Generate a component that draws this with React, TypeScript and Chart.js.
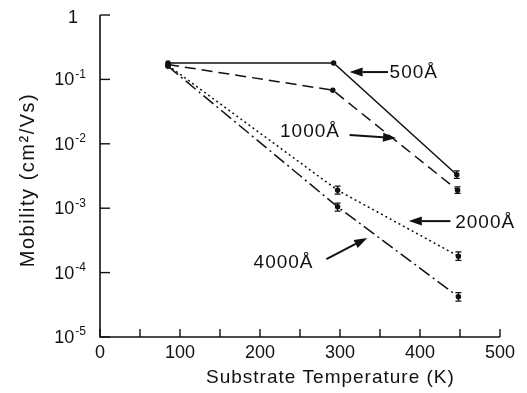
import React, { useEffect, useRef } from "react";
import { Chart, registerables } from "chart.js";

Chart.register(...registerables);

// ---- data ----
const seriesLabels = ["500Å", "1000Å", "2000Å", "4000Å"];

const temp500 = [85, 292, 446];
const mob500 = [0.18, 0.18, 3.3e-3];
const errLow500: (number | null)[] = [null, null, 2.9e-3];
const errHigh500: (number | null)[] = [null, null, 3.8e-3];

const temp1000 = [85, 291, 447];
const mob1000 = [0.17, 0.068, 1.9e-3];
const errLow1000: (number | null)[] = [null, null, 1.7e-3];
const errHigh1000: (number | null)[] = [null, null, 2.15e-3];

const temp2000 = [85, 297, 448];
const mob2000 = [0.165, 1.9e-3, 1.8e-4];
const errLow2000: (number | null)[] = [null, 1.65e-3, 1.55e-4];
const errHigh2000: (number | null)[] = [null, 2.2e-3, 2.1e-4];

const temp4000 = [85, 297, 448];
const mob4000 = [0.16, 1.05e-3, 4.2e-5];
const errLow4000: (number | null)[] = [null, 0.9e-3, 3.6e-5];
const errHigh4000: (number | null)[] = [null, 1.2e-3, 4.9e-5];

const xTickValues = [0, 50, 100, 150, 200, 250, 300, 350, 400, 450, 500];
const xTickLabels = ["0", "100", "200", "300", "400", "500"];
const xLabelValues = [0, 100, 200, 300, 400, 500];
const yTickValues = [1, 1e-1, 1e-2, 1e-3, 1e-4, 1e-5];
const yTickExponents = ["", "-1", "-2", "-3", "-4", "-5"];

const xTitle = "Substrate Temperature (K)";
const yTitle = "Mobility (cm²/Vs)";

// annotation: label, text anchor (x,y), arrow tail (x,y), arrow head (x,y) in data units
const annotations = [
  { text: "500Å", tx: 362, ty: 0.126, ax: 360, ay: 0.13, hx: 312, hy: 0.13 },
  { text: "1000Å", tx: 225, ty: 0.0152, ax: 312, ay: 0.0137, hx: 370, hy: 0.0123 },
  { text: "2000Å", tx: 444, ty: 5.9e-4, ax: 438, ay: 6.3e-4, hx: 386, hy: 6.3e-4 },
  { text: "4000Å", tx: 192, ty: 1.4e-4, ax: 283, ay: 1.62e-4, hx: 334, hy: 3.45e-4 },
];

const FONT = "'Liberation Sans', Arial, sans-serif";

function App() {
  const ref = useRef<HTMLCanvasElement | null>(null);

  useEffect(() => {
    if (!ref.current) return;
    const mk = (xs: number[], ys: number[]) => xs.map((x, i) => ({ x, y: ys[i] }));
    const errs = [
      [errLow500, errHigh500],
      [errLow1000, errHigh1000],
      [errLow2000, errHigh2000],
      [errLow4000, errHigh4000],
    ];
    const xsAll = [temp500, temp1000, temp2000, temp4000];

    const drawPlugin = {
      id: "customDraw",
      beforeDraw(chart: any) {
        const c = chart.ctx;
        c.save();
        c.fillStyle = "#fff";
        c.fillRect(0, 0, chart.width, chart.height);
        c.restore();
      },
      afterDatasetsDraw(chart: any) {
        const c = chart.ctx;
        const xs = chart.scales.x;
        const ys = chart.scales.y;
        c.save();
        c.strokeStyle = "#111";
        c.fillStyle = "#111";

        // error bars
        c.lineWidth = 1.3;
        errs.forEach(([lo, hi], si) => {
          lo.forEach((l, i) => {
            const h = hi[i];
            if (l == null || h == null) return;
            const px = xs.getPixelForValue(xsAll[si][i]);
            const p1 = ys.getPixelForValue(l);
            const p2 = ys.getPixelForValue(h);
            c.beginPath();
            c.moveTo(px, p1);
            c.lineTo(px, p2);
            c.moveTo(px - 3, p1);
            c.lineTo(px + 3, p1);
            c.moveTo(px - 3, p2);
            c.lineTo(px + 3, p2);
            c.stroke();
          });
        });

        // axes
        const left = xs.getPixelForValue(0);
        const right = xs.getPixelForValue(500);
        const top = ys.getPixelForValue(1);
        const bottom = ys.getPixelForValue(1e-5);
        c.lineWidth = 1.6;
        c.beginPath();
        c.moveTo(left, top);
        c.lineTo(left, bottom);
        c.lineTo(right, bottom);
        c.stroke();

        // y ticks & labels
        c.lineWidth = 1.4;
        yTickValues.forEach((v, i) => {
          const py = ys.getPixelForValue(v);
          c.beginPath();
          c.moveTo(left, py);
          c.lineTo(left + 10, py);
          c.stroke();
          const exp = yTickExponents[i];
          c.textBaseline = "middle";
          if (!exp) {
            c.font = `18px ${FONT}`;
            c.textAlign = "right";
            c.fillText("1", left - 22, py + 3);
          } else {
            c.font = `12px ${FONT}`;
            c.textAlign = "right";
            const ew = c.measureText(exp).width;
            const rx = left - 14;
            c.fillText(exp, rx, py - 5);
            c.font = `18px ${FONT}`;
            c.fillText("10", rx - ew - 1, py + 1);
          }
        });

        // x ticks & labels
        xTickValues.forEach((v) => {
          const px = xs.getPixelForValue(v);
          c.beginPath();
          c.moveTo(px, bottom);
          c.lineTo(px, bottom - 8);
          c.stroke();
        });
        c.font = `18px ${FONT}`;
        c.textAlign = "center";
        c.textBaseline = "top";
        xLabelValues.forEach((v, i) => {
          c.fillText(xTickLabels[i], xs.getPixelForValue(v), bottom + 7);
        });

        // titles
        c.font = `19px ${FONT}`;
        c.textAlign = "center";
        c.textBaseline = "middle";
        (c as any).letterSpacing = "1px";
        c.fillText(xTitle, xs.getPixelForValue(288), bottom + 41);
        c.save();
        (c as any).letterSpacing = "1.5px";
        c.font = `20px ${FONT}`;
        c.translate(28, (top + bottom) / 2 + 4);
        c.rotate(-Math.PI / 2);
        c.fillText(yTitle, 0, 0);
        c.restore();

        // annotations
        annotations.forEach((a) => {
          const tx = xs.getPixelForValue(a.tx);
          const ty = ys.getPixelForValue(a.ty);
          c.font = `19px ${FONT}`;
          (c as any).letterSpacing = "1px";
          c.textAlign = "left";
          c.textBaseline = "middle";
          c.fillText(a.text, tx, ty);
          const x1 = xs.getPixelForValue(a.ax);
          const y1 = ys.getPixelForValue(a.ay);
          const x2 = xs.getPixelForValue(a.hx);
          const y2 = ys.getPixelForValue(a.hy);
          const ang = Math.atan2(y2 - y1, x2 - x1);
          const hl = 13;
          const hw = 4.5;
          const bx = x2 - hl * Math.cos(ang);
          const by = y2 - hl * Math.sin(ang);
          c.lineWidth = 2;
          c.beginPath();
          c.moveTo(x1, y1);
          c.lineTo(bx, by);
          c.stroke();
          c.beginPath();
          c.moveTo(x2, y2);
          c.lineTo(bx + hw * Math.sin(ang), by - hw * Math.cos(ang));
          c.lineTo(bx - hw * Math.sin(ang), by + hw * Math.cos(ang));
          c.closePath();
          c.fill();
        });
        c.restore();
      },
    };

    const common = {
      borderColor: "#111",
      backgroundColor: "#111",
      pointRadius: 2,
      pointHoverRadius: 2,
      borderWidth: 1.5,
      fill: false,
      tension: 0,
    };

    const chart = new Chart(ref.current, {
      type: "line",
      data: {
        datasets: [
          { ...common, label: seriesLabels[0], data: mk(temp500, mob500), borderDash: [] },
          { ...common, label: seriesLabels[1], data: mk(temp1000, mob1000), borderDash: [11, 6] },
          { ...common, label: seriesLabels[2], data: mk(temp2000, mob2000), borderDash: [2, 3] },
          { ...common, label: seriesLabels[3], data: mk(temp4000, mob4000), borderDash: [13, 4, 2, 4] },
        ],
      },
      options: {
        animation: false,
        responsive: false,
        layout: { padding: { left: 100, right: 27, top: 15, bottom: 56 } },
        plugins: { legend: { display: false }, tooltip: { enabled: false } },
        scales: {
          x: { type: "linear", min: 0, max: 500, display: false },
          y: { type: "logarithmic", min: 1e-5, max: 1, display: false },
        },
      },
      plugins: [drawPlugin],
    });
    return () => chart.destroy();
  }, []);

  return (
    <div style={{ position: "fixed", left: 0, top: 0, width: 527, height: 393, background: "#fff" }}>
      <canvas ref={ref} width={527} height={393} style={{ display: "block" }} />
    </div>
  );
}

export default App;
